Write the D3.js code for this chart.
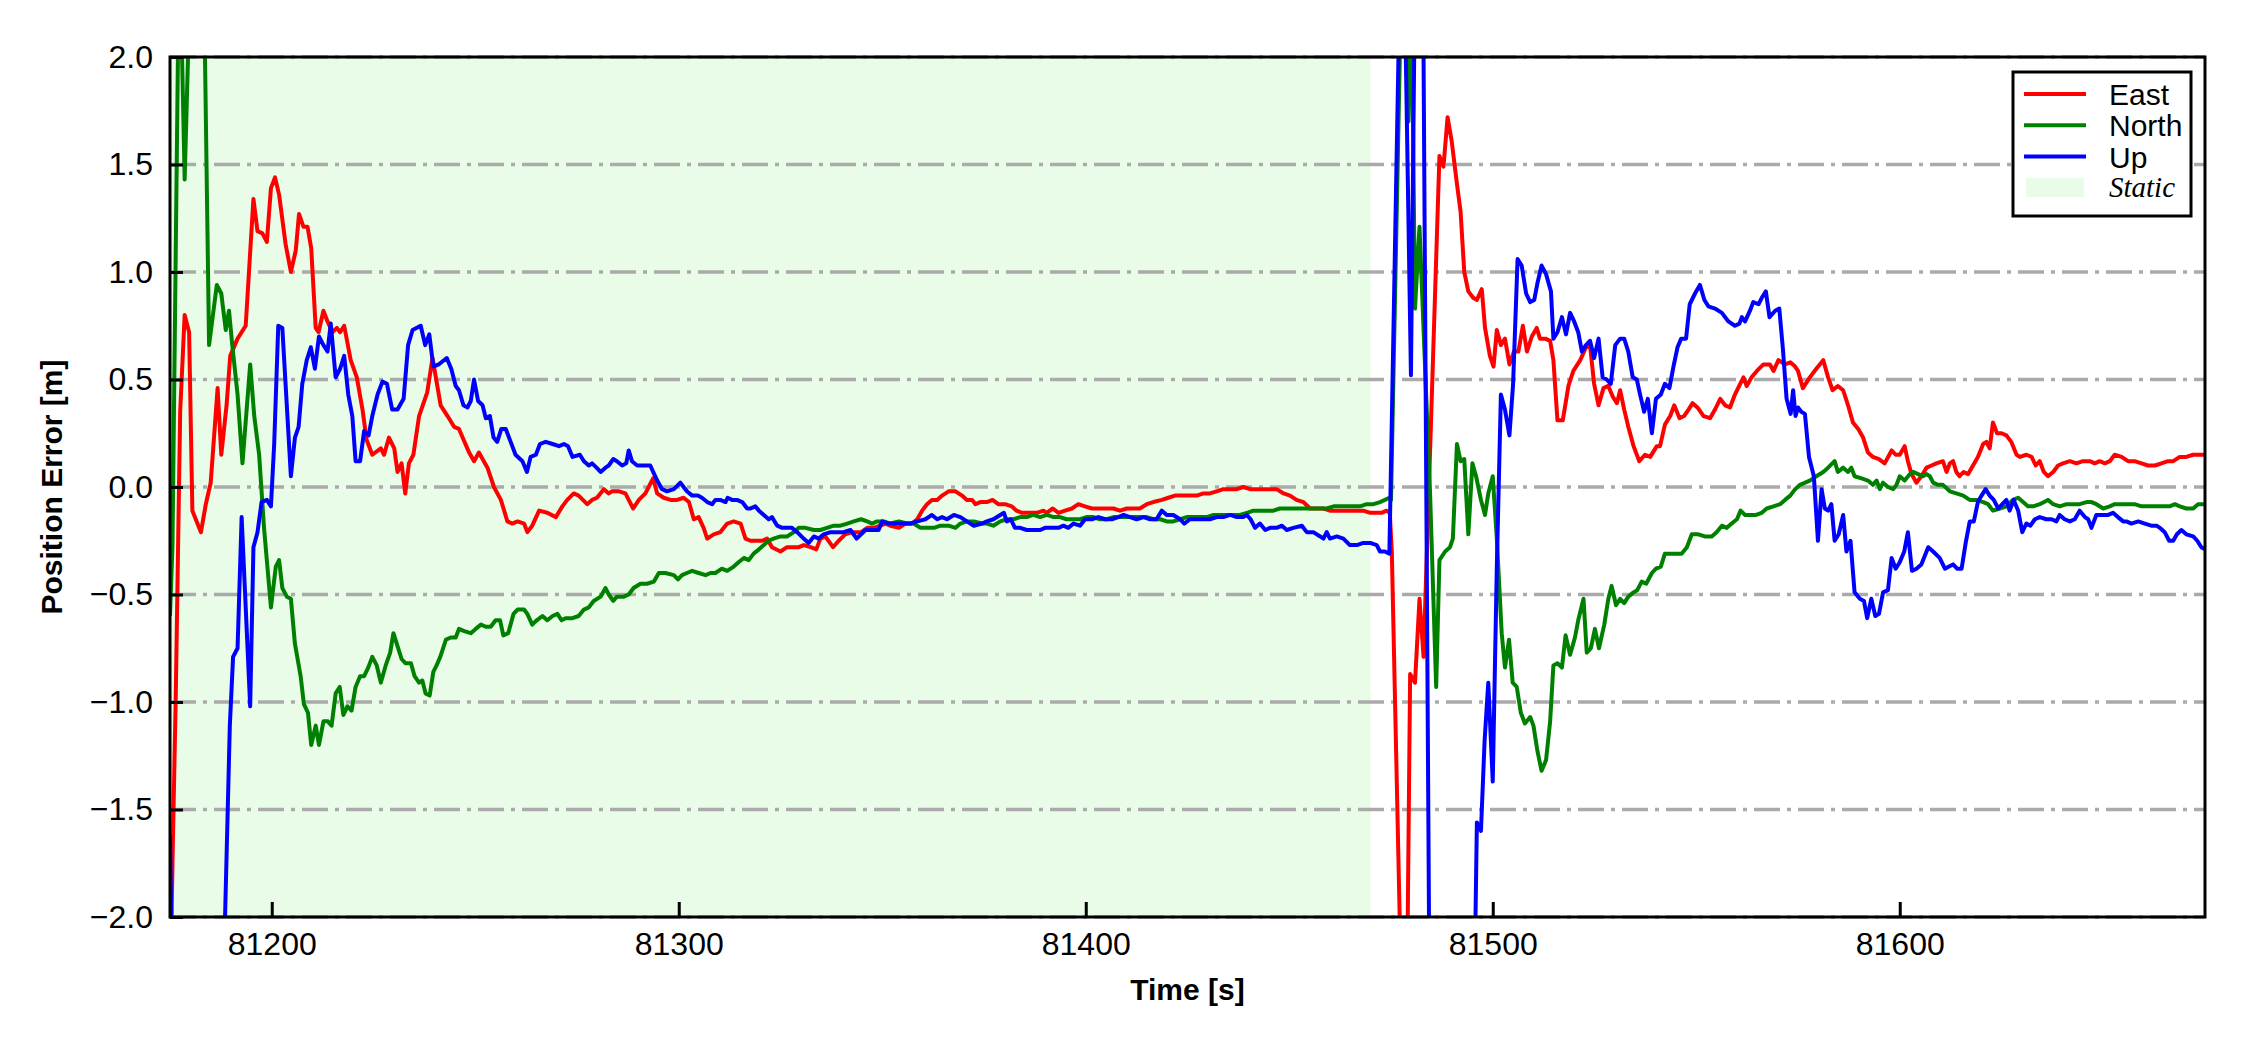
<!DOCTYPE html>
<html>
<head>
<meta charset="utf-8">
<script src="https://cdn.jsdelivr.net/npm/d3@7"></script>
<style>
  body { margin: 0; background: #fff; }
  svg { display: block; font-family: "Liberation Sans", Arial, sans-serif; }
</style>
</head>
<body>
<script>
// axis ranges and ticks
var xDomain = [81175, 81675];
var yDomain = [-2, 2];
var xTicks = [81200, 81300, 81400, 81500, 81600];
var yTicks = [-2, -1.5, -1, -0.5, 0, 0.5, 1, 1.5, 2];
var staticRange = [81175, 81470];

var seriesNames = ['East', 'North', 'Up'];
var seriesColors = ['#ff0000', '#008000', '#0000ff'];

// [time, error] pairs
var eastData = [
  [81175.0,-2.4],[81175.7,-1.66],[81176.4,-0.99],[81177.5,0.35],[81178.6,0.80],[81179.7,0.72],[81180.5,-0.11],[81182.6,-0.21],[81183.8,-0.08],[81185.0,0.02],[81186.7,0.46],[81187.6,0.15],[81188.9,0.38],[81189.8,0.61],[81191.6,0.69],[81193.6,0.75],[81195.5,1.34],[81196.5,1.19],[81197.7,1.18],[81198.8,1.14],[81199.8,1.39],[81200.8,1.44],[81201.8,1.36],[81203.4,1.13],[81204.7,1.00],[81205.9,1.10],[81206.7,1.27],[81207.8,1.21],[81208.8,1.21],[81209.7,1.11],[81210.8,0.74],[81211.5,0.72],[81212.7,0.82],[81213.7,0.77],[81214.9,0.72],[81216.0,0.74],[81216.8,0.72],[81217.8,0.75],[81219.4,0.59],[81220.9,0.51],[81222.3,0.36],[81223.3,0.22],[81224.7,0.15],[81226.8,0.18],[81227.6,0.15],[81228.8,0.23],[81230.1,0.18],[81230.9,0.07],[81231.9,0.11],[81232.8,-0.03],[81233.7,0.11],[81234.8,0.15],[81236.2,0.33],[81238.2,0.44],[81239.5,0.60],[81241.5,0.38],[81243.2,0.33],[81244.8,0.28],[81246.0,0.27],[81248.5,0.16],[81249.7,0.12],[81250.9,0.16],[81253.0,0.09],[81254.6,0.00],[81256.3,-0.06],[81257.9,-0.16],[81259.1,-0.17],[81260.4,-0.16],[81262.0,-0.17],[81262.8,-0.21],[81264.0,-0.18],[81265.7,-0.11],[81267.7,-0.12],[81269.8,-0.14],[81271.4,-0.09],[81272.6,-0.06],[81274.2,-0.03],
  [81275.4,-0.04],[81277.5,-0.08],[81278.7,-0.06],[81279.9,-0.05],[81281.6,-0.01],[81282.8,-0.03],[81283.6,-0.02],[81285.3,-0.02],[81286.9,-0.03],[81287.7,-0.06],[81288.8,-0.10],[81290.2,-0.06],[81291.8,-0.03],[81293.7,0.04],[81294.7,-0.03],[81296.3,-0.05],[81298.0,-0.06],[81299.6,-0.06],[81301.2,-0.05],[81302.5,-0.07],[81303.7,-0.15],[81304.9,-0.14],[81306.1,-0.19],[81307.0,-0.24],[81308.6,-0.22],[81310.2,-0.21],[81311.9,-0.17],[81313.5,-0.16],[81315.2,-0.17],[81316.4,-0.24],[81317.6,-0.25],[81318.8,-0.25],[81320.5,-0.25],[81321.7,-0.24],[81322.9,-0.28],[81325.0,-0.30],[81326.6,-0.28],[81328.3,-0.28],[81329.5,-0.28],[81330.7,-0.27],[81332.4,-0.28],[81333.8,-0.29],[81334.8,-0.24],[81336.0,-0.23],[81337.9,-0.28],[81339.3,-0.25],[81340.9,-0.22],[81342.6,-0.21],[81343.7,-0.21],[81344.8,-0.21],[81346.3,-0.19],[81347.9,-0.19],[81349.5,-0.18],[81350.8,-0.17],[81352.0,-0.18],[81354.1,-0.19],[81355.7,-0.17],[81357.3,-0.17],[81358.6,-0.15],[81359.8,-0.11],[81361.0,-0.08],[81362.2,-0.06],[81363.5,-0.06],[81364.7,-0.04],[81366.3,-0.02],[81368.0,-0.02],[81369.6,-0.04],[81370.8,-0.06],[81372.1,-0.06],[81372.9,-0.08],[81374.1,-0.07],
  [81375.7,-0.07],[81377.1,-0.06],[81378.5,-0.08],[81380.2,-0.08],[81381.8,-0.09],[81383.0,-0.11],[81384.3,-0.12],[81386.3,-0.12],[81388.0,-0.12],[81389.6,-0.11],[81390.4,-0.12],[81391.9,-0.10],[81393.3,-0.12],[81394.9,-0.11],[81396.6,-0.10],[81398.2,-0.08],[81399.8,-0.09],[81401.5,-0.10],[81403.1,-0.10],[81405.2,-0.10],[81406.8,-0.10],[81408.4,-0.11],[81410.1,-0.10],[81411.7,-0.10],[81413.3,-0.10],[81415.0,-0.08],[81416.6,-0.07],[81418.7,-0.06],[81420.3,-0.05],[81421.9,-0.04],[81424.0,-0.04],[81425.6,-0.04],[81427.3,-0.04],[81428.9,-0.03],[81430.5,-0.03],[81432.2,-0.02],[81433.8,-0.01],[81435.5,-0.01],[81437.1,-0.01],[81438.7,0.00],[81440.4,-0.01],[81442.0,-0.01],[81443.7,-0.01],[81445.3,-0.01],[81446.9,-0.01],[81448.6,-0.03],[81450.2,-0.04],[81451.8,-0.06],[81453.5,-0.07],[81455.1,-0.10],[81456.8,-0.10],[81458.4,-0.10],[81460.0,-0.11],[81461.7,-0.11],[81463.3,-0.11],[81464.9,-0.11],[81466.6,-0.11],[81468.2,-0.11],[81469.9,-0.12],[81471.5,-0.12],[81472.7,-0.12],[81473.9,-0.11],[81474.7,-0.12],
  [81475.2,-0.30],[81478.5,-3.2],[81479.7,-0.87],[81480.9,-0.91],[81482.0,-0.52],[81483.0,-0.79],[81486.9,1.54],[81487.9,1.49],[81488.9,1.72],[81489.9,1.61],[81491.2,1.41],[81492.1,1.28],[81493.0,1.00],[81494.0,0.91],[81495.2,0.88],[81496.1,0.87],[81497.3,0.92],[81498.1,0.74],[81499.3,0.61],[81500.2,0.56],[81501.0,0.73],[81502.0,0.66],[81503.0,0.69],[81504.1,0.57],[81505.2,0.63],[81506.3,0.63],[81507.4,0.75],[81508.4,0.63],[81509.6,0.70],[81510.8,0.74],[81511.6,0.69],[81512.9,0.69],[81514.1,0.68],[81514.9,0.59],[81515.9,0.31],[81517.2,0.31],[81518.6,0.47],[81519.8,0.54],[81521.5,0.59],[81522.9,0.65],[81523.9,0.66],[81524.9,0.48],[81526.0,0.38],[81527.2,0.46],[81528.4,0.47],[81529.5,0.42],[81530.5,0.39],[81531.3,0.45],[81532.3,0.36],[81533.3,0.28],[81534.6,0.19],[81536.0,0.12],[81537.4,0.15],[81538.7,0.14],[81540.3,0.19],[81541.1,0.19],[81542.3,0.29],[81543.6,0.33],[81544.6,0.38],[81545.9,0.32],[81547.0,0.33],[81548.1,0.36],[81549.1,0.39],[81550.3,0.37],[81551.8,0.33],[81553.4,0.32],[81554.6,0.36],[81555.9,0.41],[81557.1,0.38],[81558.3,0.37],[81559.5,0.43],[81560.8,0.48],[81561.6,0.51],[81562.4,0.47],[81563.6,0.51],[81564.9,0.54],[81566.5,0.57],[81568.1,0.57],[81569.0,0.54],[81570.2,0.59],[81571.8,0.57],[81573.1,0.58],[81574.3,0.56],
  [81575.0,0.54],[81576.2,0.46],[81577.9,0.51],[81579.5,0.55],[81581.2,0.59],[81582.4,0.51],[81583.5,0.45],[81584.8,0.47],[81586.1,0.45],[81587.3,0.38],[81588.5,0.30],[81589.8,0.27],[81591.0,0.23],[81592.2,0.16],[81593.4,0.14],[81594.9,0.13],[81596.3,0.11],[81598.0,0.17],[81599.0,0.15],[81600.0,0.15],[81601.2,0.19],[81602.0,0.12],[81602.9,0.06],[81604.1,0.02],[81605.3,0.05],[81606.6,0.09],[81607.8,0.10],[81609.0,0.11],[81610.6,0.12],[81611.5,0.07],[81612.3,0.11],[81613.1,0.12],[81613.9,0.07],[81614.7,0.05],[81615.7,0.07],[81616.8,0.06],[81618.0,0.10],[81619.2,0.14],[81620.5,0.20],[81621.3,0.21],[81622.1,0.18],[81622.9,0.30],[81623.9,0.25],[81625.0,0.25],[81626.2,0.24],[81627.4,0.21],[81628.7,0.15],[81629.5,0.14],[81631.1,0.15],[81632.4,0.14],[81633.4,0.10],[81634.4,0.12],[81635.4,0.07],[81636.4,0.05],[81637.7,0.07],[81638.9,0.10],[81640.1,0.11],[81641.8,0.12],[81643.4,0.11],[81645.0,0.12],[81646.7,0.12],[81647.9,0.11],[81649.1,0.12],[81650.4,0.11],[81651.6,0.12],[81652.8,0.15],[81654.5,0.14],[81656.1,0.12],[81657.7,0.12],[81659.4,0.11],[81661.0,0.10],[81662.7,0.10],[81664.3,0.11],[81665.9,0.12],[81667.2,0.12],[81668.8,0.14],[81670.4,0.14],[81672.1,0.15],[81673.7,0.15],[81675.0,0.15]
];

var northData = [
  [81175.0,-0.6],[81175.6,-0.28],[81177.3,2.6],[81178.6,1.43],[81180.3,2.6],[81183.0,2.8],[81184.6,0.66],[81186.5,0.94],[81187.6,0.90],[81188.7,0.73],[81189.5,0.82],[81190.3,0.66],[81191.6,0.43],[81192.8,0.11],[81194.7,0.57],[81195.7,0.33],[81196.9,0.15],[81198.1,-0.19],[81199.8,-0.56],[81201.0,-0.37],[81201.8,-0.34],[81202.6,-0.47],[81203.7,-0.51],[81204.7,-0.52],[81205.7,-0.73],[81207.1,-0.88],[81207.9,-1.01],[81208.9,-1.05],[81209.7,-1.20],[81210.8,-1.11],[81211.6,-1.20],[81212.7,-1.09],[81213.8,-1.09],[81214.7,-1.11],[81215.7,-0.96],[81216.7,-0.93],[81217.6,-1.06],[81218.6,-1.02],[81219.6,-1.04],[81220.6,-0.93],[81221.7,-0.88],[81222.7,-0.88],[81223.7,-0.84],[81224.7,-0.79],[81225.8,-0.83],[81226.8,-0.91],[81228.0,-0.83],[81229.1,-0.77],[81229.9,-0.68],[81230.9,-0.74],[81231.9,-0.80],[81232.9,-0.82],[81234.2,-0.82],[81235.1,-0.88],[81236.2,-0.91],[81237.0,-0.90],[81237.8,-0.96],[81238.8,-0.97],[81239.7,-0.86],[81240.5,-0.83],[81241.4,-0.79],[81242.8,-0.71],[81244.0,-0.70],[81245.2,-0.70],[81246.0,-0.66],[81247.3,-0.67],[81248.9,-0.68],[81250.1,-0.66],[81251.4,-0.64],[81252.6,-0.65],[81253.8,-0.65],[81255.0,-0.62],[81256.1,-0.62],[81256.9,-0.69],[81258.1,-0.68],[81259.4,-0.59],[81260.4,-0.57],[81262.0,-0.57],[81262.8,-0.59],[81264.0,-0.64],[81265.1,-0.62],[81266.5,-0.60],[81267.7,-0.62],[81269.0,-0.60],[81270.2,-0.59],[81271.2,-0.62],[81272.2,-0.61],[81273.9,-0.61],
  [81275.4,-0.60],[81276.7,-0.57],[81277.9,-0.56],[81279.1,-0.53],[81280.8,-0.51],[81282.0,-0.47],[81282.8,-0.50],[81283.9,-0.53],[81284.8,-0.51],[81286.5,-0.51],[81287.7,-0.50],[81288.9,-0.47],[81290.6,-0.45],[81292.2,-0.45],[81293.9,-0.44],[81295.1,-0.40],[81296.7,-0.40],[81298.8,-0.41],[81299.8,-0.43],[81300.8,-0.41],[81302.0,-0.40],[81303.3,-0.39],[81304.9,-0.40],[81306.6,-0.41],[81307.8,-0.40],[81309.0,-0.40],[81310.6,-0.38],[81311.9,-0.39],[81313.5,-0.37],[81314.7,-0.35],[81316.0,-0.33],[81317.2,-0.34],[81318.4,-0.31],[81319.7,-0.29],[81320.9,-0.27],[81322.1,-0.25],[81323.3,-0.24],[81325.0,-0.23],[81326.6,-0.23],[81328.3,-0.21],[81329.5,-0.19],[81331.1,-0.19],[81333.2,-0.20],[81334.8,-0.20],[81336.4,-0.19],[81338.1,-0.18],[81339.7,-0.18],[81341.4,-0.17],[81343.0,-0.16],[81344.8,-0.15],[81346.3,-0.16],[81347.5,-0.17],[81348.7,-0.16],[81350.4,-0.16],[81352.0,-0.17],[81354.1,-0.16],[81356.1,-0.17],[81357.7,-0.17],[81359.4,-0.19],[81361.0,-0.19],[81362.7,-0.19],[81364.3,-0.18],[81366.3,-0.18],[81368.0,-0.19],[81369.2,-0.17],[81370.8,-0.16],[81372.5,-0.16],[81374.5,-0.17],
  [81375.7,-0.17],[81377.3,-0.18],[81379.0,-0.16],[81380.6,-0.15],[81382.2,-0.15],[81383.9,-0.14],[81385.5,-0.14],[81387.1,-0.13],[81388.8,-0.14],[81390.4,-0.13],[81392.1,-0.14],[81393.7,-0.14],[81395.3,-0.15],[81397.0,-0.15],[81398.6,-0.15],[81400.2,-0.14],[81401.9,-0.14],[81403.5,-0.15],[81405.2,-0.15],[81406.8,-0.14],[81408.4,-0.14],[81410.1,-0.14],[81411.7,-0.14],[81413.3,-0.14],[81415.0,-0.14],[81416.6,-0.15],[81418.3,-0.15],[81419.9,-0.16],[81421.5,-0.16],[81423.2,-0.15],[81424.8,-0.14],[81426.5,-0.14],[81428.1,-0.14],[81429.7,-0.14],[81431.4,-0.13],[81433.0,-0.13],[81434.6,-0.13],[81436.3,-0.13],[81437.9,-0.13],[81439.6,-0.12],[81441.2,-0.11],[81442.8,-0.11],[81444.5,-0.11],[81446.1,-0.11],[81447.7,-0.10],[81449.4,-0.10],[81451.0,-0.10],[81452.7,-0.10],[81454.3,-0.10],[81455.9,-0.10],[81457.6,-0.10],[81459.2,-0.10],[81460.9,-0.09],[81462.5,-0.09],[81464.1,-0.09],[81465.8,-0.09],[81467.4,-0.09],[81469.0,-0.08],[81470.7,-0.08],[81472.3,-0.07],[81473.5,-0.06],[81474.6,-0.05],
  [81475.0,-0.06],[81477.8,2.6],[81479.3,1.70],[81480.0,2.4],[81480.9,0.83],[81482.0,1.21],[81484.6,-0.03],[81486.1,-0.93],[81486.9,-0.34],[81488.3,-0.30],[81489.5,-0.28],[81490.2,-0.24],[81491.2,0.20],[81492.1,0.12],[81493.0,0.13],[81494.0,-0.22],[81495.0,0.11],[81495.9,0.05],[81497.1,-0.06],[81498.1,-0.13],[81498.9,-0.03],[81500.0,0.05],[81501.0,-0.24],[81502.2,-0.68],[81503.0,-0.84],[81504.0,-0.71],[81504.9,-0.91],[81505.9,-0.93],[81506.9,-1.05],[81507.9,-1.10],[81509.2,-1.07],[81510.0,-1.11],[81511.0,-1.23],[81512.0,-1.32],[81513.1,-1.27],[81514.1,-1.09],[81514.9,-0.83],[81515.9,-0.82],[81517.0,-0.84],[81517.9,-0.69],[81519.0,-0.78],[81520.2,-0.70],[81521.0,-0.62],[81522.3,-0.52],[81523.1,-0.77],[81524.1,-0.75],[81525.1,-0.66],[81526.1,-0.75],[81527.4,-0.64],[81528.4,-0.52],[81529.2,-0.46],[81530.3,-0.55],[81531.3,-0.52],[81532.3,-0.54],[81533.3,-0.51],[81534.6,-0.49],[81535.5,-0.48],[81536.6,-0.44],[81537.7,-0.45],[81539.1,-0.40],[81540.1,-0.38],[81541.3,-0.37],[81542.3,-0.31],[81543.6,-0.31],[81545.2,-0.31],[81546.4,-0.31],[81547.7,-0.28],[81548.9,-0.22],[81550.5,-0.22],[81552.1,-0.23],[81553.8,-0.23],[81555.0,-0.21],[81556.3,-0.18],[81557.5,-0.19],[81558.7,-0.17],[81560.0,-0.15],[81560.9,-0.11],[81562.0,-0.13],[81563.2,-0.13],[81564.7,-0.13],[81566.1,-0.12],[81567.3,-0.10],[81569.0,-0.09],[81570.6,-0.08],[81571.8,-0.06],[81573.1,-0.04],[81574.3,-0.01],
  [81575.5,0.01],[81577.9,0.03],[81579.5,0.05],[81581.2,0.07],[81582.4,0.09],[81584.0,0.12],[81584.8,0.07],[81586.1,0.09],[81587.3,0.07],[81588.1,0.09],[81588.9,0.05],[81590.6,0.04],[81592.2,0.03],[81593.4,0.01],[81594.3,0.03],[81595.1,-0.01],[81595.9,0.02],[81597.1,0.00],[81598.4,-0.01],[81599.2,0.01],[81600.0,0.05],[81601.2,0.03],[81602.5,0.06],[81603.3,0.07],[81604.5,0.06],[81605.7,0.05],[81606.6,0.06],[81607.4,0.05],[81608.2,0.02],[81609.4,0.01],[81610.6,0.01],[81612.3,-0.02],[81613.9,-0.03],[81615.6,-0.04],[81617.2,-0.06],[81618.8,-0.06],[81620.5,-0.07],[81621.7,-0.08],[81622.9,-0.11],[81624.6,-0.10],[81626.2,-0.09],[81627.8,-0.06],[81629.1,-0.05],[81630.3,-0.07],[81631.5,-0.09],[81632.8,-0.09],[81634.4,-0.08],[81636.4,-0.06],[81637.7,-0.08],[81639.3,-0.09],[81641.0,-0.08],[81642.6,-0.08],[81644.2,-0.08],[81645.9,-0.07],[81647.1,-0.07],[81648.3,-0.08],[81650.0,-0.10],[81651.6,-0.09],[81652.8,-0.08],[81654.5,-0.08],[81656.1,-0.08],[81657.7,-0.08],[81659.4,-0.09],[81661.4,-0.09],[81663.1,-0.09],[81664.7,-0.09],[81666.3,-0.09],[81667.6,-0.08],[81668.8,-0.09],[81670.4,-0.10],[81672.1,-0.10],[81673.3,-0.08],[81675.0,-0.08]
];

var upData = [
  [81175.0,-1.62],[81175.8,-2.6],[81187.6,-2.7],[81189.7,-1.11],[81190.5,-0.79],[81191.6,-0.75],[81192.6,-0.14],[81194.7,-1.02],[81195.5,-0.28],[81196.5,-0.21],[81197.5,-0.07],[81198.8,-0.06],[81199.8,-0.09],[81200.6,0.20],[81201.6,0.75],[81202.6,0.74],[81203.7,0.38],[81204.7,0.05],[81205.7,0.23],[81206.6,0.28],[81207.5,0.48],[81208.6,0.59],[81209.6,0.65],[81210.6,0.55],[81211.6,0.70],[81212.7,0.66],[81213.7,0.63],[81214.5,0.76],[81215.7,0.51],[81216.8,0.55],[81217.8,0.61],[81218.8,0.43],[81219.8,0.33],[81220.6,0.12],[81221.7,0.12],[81222.7,0.26],[81223.8,0.24],[81224.7,0.33],[81226.0,0.43],[81227.2,0.49],[81228.3,0.48],[81229.6,0.36],[81230.9,0.36],[81232.4,0.41],[81233.5,0.66],[81234.6,0.73],[81236.6,0.75],[81237.7,0.66],[81238.7,0.71],[81239.7,0.56],[81241.0,0.57],[81243.0,0.60],[81244.1,0.55],[81245.2,0.47],[81246.0,0.45],[81247.1,0.38],[81248.1,0.37],[81248.9,0.40],[81249.7,0.50],[81250.7,0.40],[81251.8,0.38],[81252.6,0.32],[81253.6,0.33],[81254.5,0.23],[81255.4,0.21],[81256.4,0.27],[81257.5,0.27],[81258.7,0.21],[81259.9,0.15],[81261.6,0.12],[81262.7,0.07],[81263.6,0.14],[81264.9,0.15],[81265.9,0.20],[81267.3,0.21],[81269.0,0.20],[81270.6,0.19],[81271.8,0.20],[81272.8,0.19],[81273.9,0.14],
  [81275.7,0.15],[81276.7,0.12],[81277.9,0.10],[81278.7,0.11],[81279.8,0.09],[81280.8,0.07],[81282.0,0.09],[81282.8,0.10],[81283.9,0.13],[81284.8,0.12],[81286.1,0.10],[81287.1,0.11],[81287.7,0.17],[81288.5,0.12],[81289.8,0.10],[81291.4,0.10],[81293.0,0.10],[81294.7,0.03],[81295.9,-0.01],[81297.1,-0.02],[81298.8,-0.01],[81300.4,0.02],[81301.2,0.00],[81302.0,-0.02],[81303.3,-0.04],[81304.7,-0.04],[81305.7,-0.05],[81307.0,-0.07],[81308.2,-0.08],[81309.0,-0.06],[81310.2,-0.06],[81311.5,-0.07],[81312.0,-0.05],[81313.1,-0.06],[81314.3,-0.06],[81315.6,-0.07],[81316.8,-0.10],[81317.6,-0.10],[81318.8,-0.09],[81319.7,-0.11],[81320.9,-0.13],[81322.1,-0.15],[81322.9,-0.14],[81324.2,-0.18],[81325.4,-0.19],[81327.0,-0.19],[81327.8,-0.19],[81329.1,-0.21],[81330.7,-0.24],[81331.9,-0.26],[81333.2,-0.23],[81334.4,-0.24],[81335.6,-0.22],[81337.3,-0.21],[81338.9,-0.21],[81340.5,-0.21],[81342.2,-0.20],[81343.7,-0.24],[81344.8,-0.22],[81345.9,-0.20],[81347.5,-0.20],[81349.1,-0.20],[81350.0,-0.16],[81351.6,-0.17],[81353.2,-0.17],[81355.3,-0.17],[81356.9,-0.17],[81358.6,-0.16],[81360.6,-0.15],[81362.2,-0.13],[81363.5,-0.15],[81364.7,-0.14],[81365.9,-0.15],[81367.6,-0.13],[81369.2,-0.14],[81370.8,-0.16],[81372.5,-0.18],[81374.5,-0.17],
  [81375.7,-0.16],[81377.3,-0.15],[81379.0,-0.13],[81379.9,-0.12],[81380.6,-0.16],[81381.6,-0.15],[81382.6,-0.19],[81383.9,-0.19],[81385.5,-0.20],[81387.1,-0.20],[81388.8,-0.20],[81390.0,-0.19],[81391.6,-0.19],[81393.3,-0.19],[81394.5,-0.18],[81395.7,-0.19],[81397.0,-0.17],[81398.6,-0.18],[81399.8,-0.15],[81401.5,-0.15],[81403.1,-0.14],[81404.8,-0.15],[81406.4,-0.15],[81408.0,-0.14],[81409.3,-0.13],[81410.9,-0.14],[81412.5,-0.15],[81414.2,-0.14],[81415.8,-0.15],[81417.4,-0.15],[81418.7,-0.11],[81419.9,-0.13],[81421.5,-0.13],[81423.2,-0.15],[81424.2,-0.17],[81425.6,-0.15],[81427.3,-0.15],[81428.9,-0.15],[81430.5,-0.15],[81432.2,-0.14],[81433.8,-0.14],[81435.5,-0.13],[81437.1,-0.14],[81438.7,-0.14],[81439.6,-0.13],[81440.5,-0.15],[81441.6,-0.19],[81442.8,-0.17],[81444.1,-0.20],[81445.3,-0.19],[81446.9,-0.19],[81448.2,-0.18],[81449.4,-0.20],[81451.0,-0.19],[81453.1,-0.18],[81454.3,-0.21],[81455.9,-0.21],[81457.6,-0.23],[81458.4,-0.24],[81459.2,-0.21],[81460.0,-0.24],[81461.7,-0.23],[81463.3,-0.24],[81464.9,-0.27],[81466.6,-0.27],[81468.2,-0.26],[81469.9,-0.26],[81471.5,-0.27],[81472.3,-0.30],[81473.5,-0.30],[81474.6,-0.31],
  [81477.8,3.0],[81479.9,0.52],[81481.5,3.5],[81482.5,3.5],[81485.0,-4.0],[81495.0,-3.0],[81496.1,-1.56],[81497.1,-1.60],[81498.0,-1.18],[81498.9,-0.91],[81500.0,-1.37],[81501.0,-0.37],[81502.0,0.43],[81503.0,0.36],[81504.1,0.24],[81505.0,0.48],[81506.1,1.06],[81507.1,1.03],[81508.2,0.90],[81509.2,0.86],[81510.2,0.87],[81511.0,0.95],[81512.0,1.03],[81513.1,0.99],[81514.3,0.91],[81514.9,0.69],[81515.9,0.72],[81517.0,0.79],[81518.0,0.71],[81519.0,0.81],[81520.0,0.77],[81521.0,0.72],[81521.9,0.63],[81522.9,0.66],[81523.9,0.68],[81524.9,0.60],[81526.0,0.69],[81527.0,0.51],[81528.0,0.50],[81529.0,0.48],[81530.1,0.66],[81531.3,0.69],[81532.3,0.69],[81533.3,0.63],[81534.4,0.51],[81535.4,0.50],[81536.2,0.43],[81537.2,0.35],[81538.1,0.41],[81539.1,0.25],[81540.1,0.41],[81541.3,0.43],[81542.3,0.48],[81543.4,0.46],[81544.4,0.56],[81545.4,0.65],[81546.3,0.69],[81547.5,0.69],[81548.4,0.85],[81549.7,0.90],[81550.9,0.94],[81552.0,0.87],[81553.0,0.84],[81554.6,0.83],[81556.3,0.81],[81557.9,0.77],[81559.5,0.75],[81560.6,0.76],[81561.2,0.79],[81562.0,0.77],[81563.2,0.82],[81564.0,0.86],[81565.3,0.85],[81566.1,0.88],[81567.1,0.91],[81568.0,0.79],[81569.4,0.82],[81570.4,0.83],[81571.3,0.64],[81572.2,0.41],[81573.2,0.34],
  [81573.8,0.45],[81574.4,0.33],[81575.0,0.37],[81575.8,0.35],[81576.7,0.34],[81577.7,0.14],[81578.9,0.05],[81579.9,-0.25],[81580.8,-0.01],[81581.6,-0.10],[81582.4,-0.11],[81583.2,-0.08],[81584.0,-0.25],[81585.0,-0.22],[81586.1,-0.13],[81586.9,-0.30],[81587.9,-0.25],[81588.9,-0.49],[81590.2,-0.52],[81591.2,-0.53],[81592.0,-0.61],[81593.0,-0.52],[81594.0,-0.60],[81594.9,-0.59],[81595.9,-0.49],[81597.1,-0.48],[81598.0,-0.33],[81599.0,-0.38],[81600.0,-0.35],[81601.1,-0.30],[81602.0,-0.21],[81603.0,-0.39],[81604.1,-0.38],[81605.3,-0.36],[81607.0,-0.28],[81608.2,-0.30],[81609.8,-0.33],[81611.1,-0.38],[81612.1,-0.37],[81613.1,-0.36],[81614.1,-0.38],[81615.2,-0.38],[81616.2,-0.26],[81617.2,-0.16],[81618.2,-0.16],[81619.2,-0.07],[81620.1,-0.04],[81621.1,-0.01],[81622.1,-0.04],[81623.1,-0.06],[81624.2,-0.10],[81625.2,-0.08],[81626.2,-0.06],[81627.0,-0.11],[81628.0,-0.06],[81629.1,-0.11],[81630.1,-0.21],[81631.1,-0.17],[81632.1,-0.18],[81633.2,-0.15],[81634.4,-0.14],[81636.0,-0.15],[81637.3,-0.15],[81638.5,-0.16],[81639.3,-0.13],[81640.5,-0.15],[81641.8,-0.16],[81643.0,-0.15],[81644.2,-0.11],[81645.5,-0.14],[81646.3,-0.15],[81647.1,-0.19],[81648.3,-0.13],[81649.5,-0.13],[81651.2,-0.13],[81652.4,-0.12],[81653.6,-0.14],[81654.9,-0.16],[81655.7,-0.16],[81656.9,-0.17],[81658.6,-0.16],[81660.2,-0.17],[81661.8,-0.18],[81663.1,-0.18],[81663.9,-0.19],[81665.1,-0.21],[81666.2,-0.25],[81667.2,-0.25],[81668.1,-0.22],[81669.2,-0.20],[81670.4,-0.22],[81672.1,-0.23],[81673.1,-0.25],[81674.1,-0.28],[81675.0,-0.29]
];

var allSeries = [eastData, northData, upData];

//page and plot box
var width = 2250;
var height = 1050;
var margin = {top: 57, right: 45, bottom: 133, left: 170};
var plotW = width - margin.left - margin.right;
var plotH = height - margin.top - margin.bottom;

var svg = d3.select('body')
  .append('svg')
  .attr('width', width)
  .attr('height', height);

svg.append('rect')
  .attr('width', width)
  .attr('height', height)
  .attr('fill', '#fff');

var g = svg.append('g')
  .attr('transform', 'translate(' + margin.left + ',' + margin.top + ')');

var x = d3.scaleLinear().domain(xDomain).range([0, plotW]);
var y = d3.scaleLinear().domain(yDomain).range([plotH, 0]);

g.append('clipPath')
  .attr('id', 'plot-clip')
  .append('rect')
  .attr('width', plotW)
  .attr('height', plotH);

//static period shading
g.append('rect')
  .attr('clip-path', 'url(#plot-clip)')
  .attr('x', x(staticRange[0]))
  .attr('y', 0)
  .attr('width', x(staticRange[1]) - x(staticRange[0]))
  .attr('height', plotH)
  .attr('fill', '#e8fce8');

//horizontal dash-dot grid
g.selectAll('.grid')
  .data(yTicks)
  .enter()
  .append('line')
  .attr('x1', 0)
  .attr('x2', plotW)
  .attr('y1', function(d) { return y(d); })
  .attr('y2', function(d) { return y(d); })
  .attr('stroke', '#aaaaaa')
  .attr('stroke-width', 3.3)
  .attr('stroke-dasharray', '26,7,4,7');

var line = d3.line()
  .x(function(d) { return x(d[0]); })
  .y(function(d) { return y(d[1]); });

g.append('g')
  .attr('clip-path', 'url(#plot-clip)')
  .selectAll('path')
  .data(allSeries)
  .enter()
  .append('path')
  .attr('d', line)
  .attr('fill', 'none')
  .attr('stroke', function(d, i) { return seriesColors[i]; })
  .attr('stroke-width', 4)
  .attr('stroke-linejoin', 'round');

//axes with inward ticks
var yAxis = g.append('g')
  .call(d3.axisLeft(y).tickValues(yTicks).tickFormat(d3.format('.1f')).tickSize(-13).tickPadding(17));

var xAxis = g.append('g')
  .attr('transform', 'translate(0,' + plotH + ')')
  .call(d3.axisBottom(x).tickValues(xTicks).tickFormat(d3.format('d')).tickSize(-15).tickPadding(15));

[yAxis, xAxis].forEach(function(ax) {
  ax.select('.domain').remove();
  ax.selectAll('line').attr('stroke', '#000').attr('stroke-width', 3);
  ax.selectAll('text')
    .attr('fill', '#000')
    .style('font-family', '"Liberation Sans", Arial, sans-serif')
    .style('font-size', '32px');
});

//frame
g.append('rect')
  .attr('width', plotW)
  .attr('height', plotH)
  .attr('fill', 'none')
  .attr('stroke', '#000')
  .attr('stroke-width', 3);

//axis titles
svg.append('text')
  .attr('x', margin.left + plotW / 2)
  .attr('y', 1000)
  .attr('text-anchor', 'middle')
  .style('font-size', '30px')
  .style('font-weight', 'bold')
  .text('Time [s]');

svg.append('text')
  .attr('transform', 'translate(62,' + (margin.top + plotH / 2) + ') rotate(-90)')
  .attr('text-anchor', 'middle')
  .style('font-size', '30px')
  .style('font-weight', 'bold')
  .text('Position Error [m]');

//legend
var legend = svg.append('g')
  .attr('transform', 'translate(2013,72)');

legend.append('rect')
  .attr('width', 178)
  .attr('height', 144)
  .attr('fill', '#fff')
  .attr('stroke', '#000')
  .attr('stroke-width', 3);

var rows = legend.selectAll('.row')
  .data(seriesNames)
  .enter()
  .append('g')
  .attr('transform', function(d, i) { return 'translate(0,' + (22 + i * 31.3) + ')'; });

rows.append('line')
  .attr('x1', 11)
  .attr('x2', 73)
  .attr('stroke', function(d, i) { return seriesColors[i]; })
  .attr('stroke-width', 4);

rows.append('text')
  .attr('x', 96)
  .attr('y', 11)
  .style('font-size', '30px')
  .text(function(d) { return d; });

legend.append('rect')
  .attr('x', 13)
  .attr('y', 106)
  .attr('width', 58)
  .attr('height', 19)
  .attr('fill', '#e8fce8');

legend.append('text')
  .attr('x', 96)
  .attr('y', 125)
  .style('font-family', '"Liberation Serif", "Times New Roman", serif')
  .style('font-style', 'italic')
  .style('font-size', '29px')
  .text('Static');
</script>
</body>
</html>
